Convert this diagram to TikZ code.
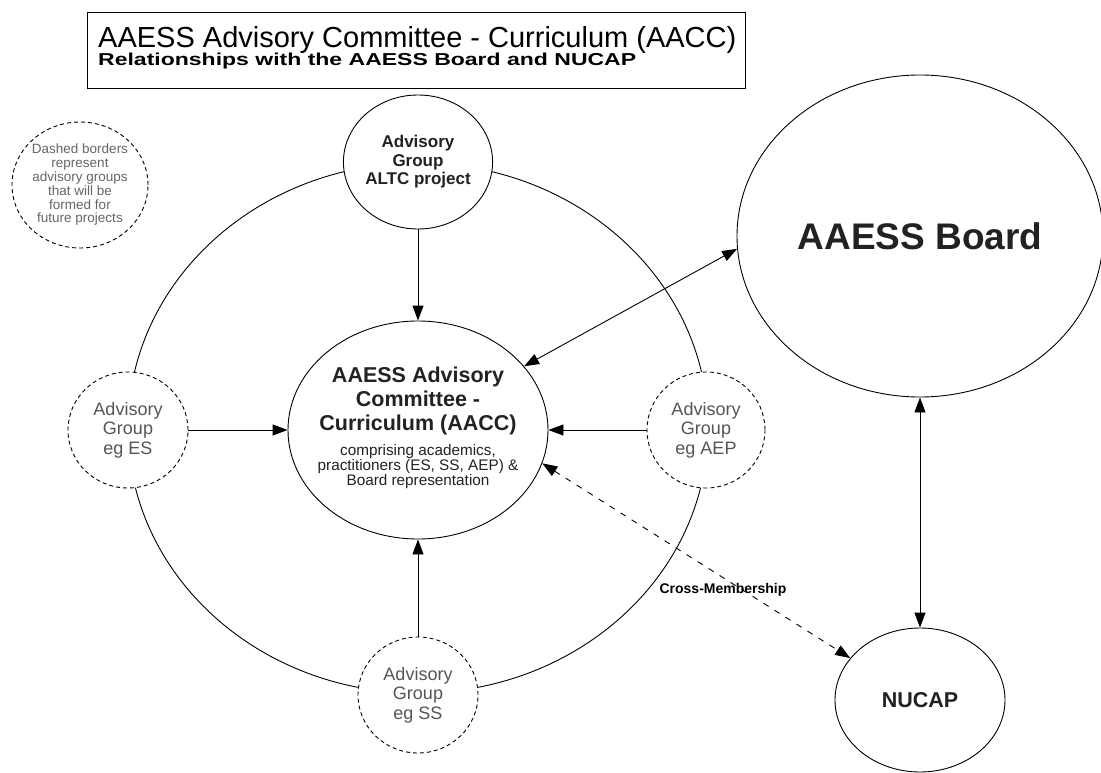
\documentclass[tikz,border=0pt]{standalone}
\usepackage{fontspec}
\setmainfont{Liberation Sans}
\usetikzlibrary{shapes.geometric,arrows.meta}
\definecolor{txtdark}{HTML}{222222}
\definecolor{txtgray}{HTML}{555555}
\definecolor{txtnote}{HTML}{666666}
\begin{document}
\begin{tikzpicture}[x=1pt,y=-1pt,
  circ/.style={draw, ellipse, inner sep=0pt, line width=0.9pt, fill=white},
  dcirc/.style={circ, dash pattern=on 4pt off 3pt},
  arr/.style={line width=0.9pt, -{Triangle[length=15pt,width=11pt]}},
  darr/.style={line width=0.9pt, {Triangle[length=15pt,width=11pt]}-{Triangle[length=15pt,width=11pt]}},
  grouptxt/.style={align=center, text=txtgray, font=\fontsize{18}{19.5}\selectfont},
]
\useasboundingbox[fill=white] (0,0) rectangle (1101,773);

% title
\node[draw, line width=1pt, anchor=north west, minimum width=658pt, minimum height=76pt, inner sep=0pt] (titlebox) at (87,12) {};
\node[anchor=base west, inner sep=0pt, font=\fontsize{29}{32}\selectfont] (t1) at (98,48) {AAESS Advisory Committee - Curriculum (AACC)};
\node[anchor=base west, inner sep=0pt, font=\fontsize{23}{25}\bfseries] (t2) at (98,66) {\scalebox{1}[0.75]{Relationships with the AAESS Board and NUCAP}};

% big ring
\node[draw, ellipse, inner sep=0pt, line width=0.9pt, minimum width=580pt, minimum height=530pt] (ring) at (418,428) {};

% note
\node[dcirc, minimum width=136pt, minimum height=126pt, align=center, text=txtnote, font=\fontsize{13.5}{13.8}\selectfont] (note) at (80,185)
  {Dashed borders\\represent\\advisory groups\\that will be\\formed for\\future projects};

% advisory groups
\node[circ, minimum width=145pt, minimum height=134pt, align=center, text=txtdark, font=\fontsize{17}{18.5}\bfseries] (top) at (418,162)
  {Advisory\\Group\\ALTC project};
\node[dcirc, minimum width=120pt, minimum height=116pt, grouptxt] (left) at (128,430) {Advisory\\Group\\eg ES};
\node[dcirc, minimum width=118pt, minimum height=116pt, grouptxt] (right) at (706,430) {Advisory\\Group\\eg AEP};
\node[dcirc, minimum width=120pt, minimum height=116pt, grouptxt] (bottom) at (418,695) {Advisory\\Group\\eg SS};

% AACC
\node[circ, minimum width=260pt, minimum height=218pt] (aacc) at (418,430) {};
\node[align=center, text=txtdark, font=\fontsize{21.5}{24}\bfseries] (aacct) at (418,401)
  {AAESS Advisory\\Committee -\\Curriculum (AACC)};
\node[align=center, text=txtdark, font=\fontsize{15.3}{15}\selectfont] (aaccs) at (418,467)
  {comprising academics,\\practitioners (ES, SS, AEP) \&\\Board representation};

% board and NUCAP
\node[circ, minimum width=366pt, minimum height=322pt, font=\fontsize{37}{40}\bfseries, text=txtdark] (board) at (920,236) {AAESS Board};
\node[circ, minimum width=170pt, minimum height=144pt, font=\fontsize{21.5}{24}\bfseries, text=txtdark] (nucap) at (920,700) {NUCAP};

% connectors
\draw[arr] (top) -- (aacc);
\draw[arr] (left) -- (aacc);
\draw[arr] (right) -- (aacc);
\draw[arr] (bottom) -- (aacc);
\draw[darr] (aacc.31) -- (board.184);
\draw[darr] (board.south) -- (nucap.north);
\draw[darr, dash pattern=on 6pt off 7pt] (aacc.-15) -- (nucap.149);
\node[font=\fontsize{14}{16}\bfseries] (cross) at (723,590) {Cross-Membership};
\end{tikzpicture}
\end{document}
